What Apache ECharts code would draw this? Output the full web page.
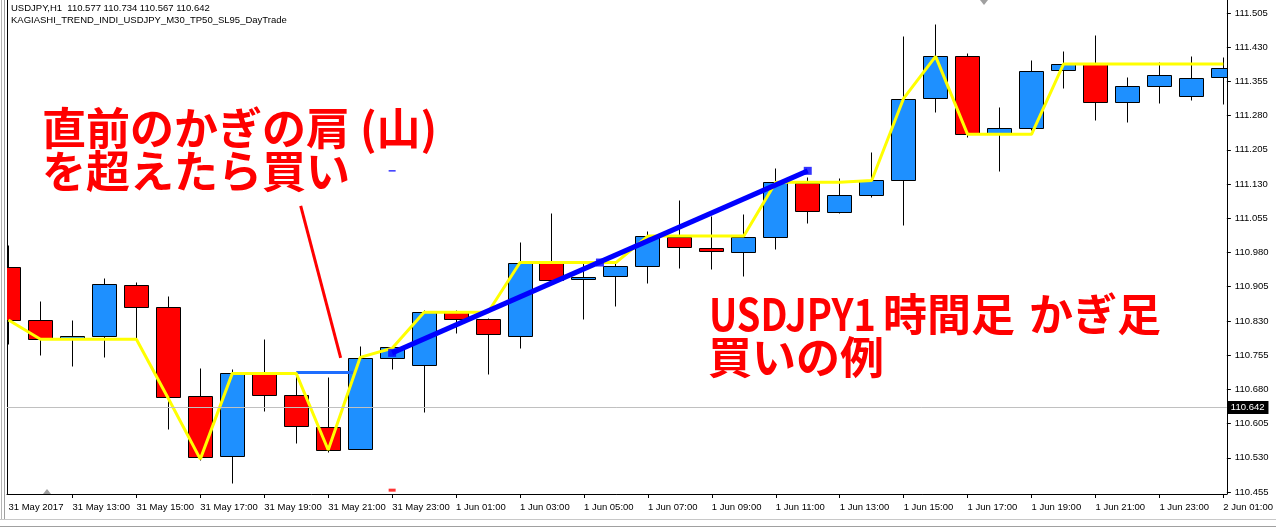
<!DOCTYPE html>
<html><head><meta charset="utf-8">
<script src="https://cdn.jsdelivr.net/npm/echarts@6/dist/echarts.min.js"></script>
<style>html,body{margin:0;padding:0;background:#fff}#c{width:1276px;height:528px}</style>
</head><body><div id="c"></div>
<script>
// ---- data (USDJPY H1, 31 May 11:00 .. 2 Jun 01:00) ----
const opens  = [110.948,110.831,110.790,110.796,110.908,110.860,110.665,110.533,110.715,110.667,110.597,110.549,110.748,110.733,110.849,110.834,110.798,110.956,110.921,110.928,110.950,111.013,110.989,110.980,111.013,111.132,111.068,111.105,111.138,111.318,111.410,111.239,111.252,111.379,111.393,111.311,111.344,111.322,111.364];
const closes = [110.832,110.790,110.796,110.910,110.860,110.663,110.531,110.715,110.667,110.599,110.546,110.748,110.772,110.849,110.834,110.801,110.958,110.919,110.926,110.950,111.016,110.991,110.983,111.013,111.134,111.070,111.105,111.138,111.316,111.410,111.239,111.252,111.377,111.393,111.311,111.344,111.368,111.362,111.384];
const lows   = [110.779,110.755,110.732,110.752,110.790,110.594,110.526,110.475,110.633,110.563,110.542,110.549,110.725,110.630,110.804,110.714,110.771,110.918,110.835,110.863,110.914,110.947,110.943,110.929,110.988,111.045,111.067,111.102,111.041,111.289,111.233,111.159,111.249,111.341,111.270,111.267,111.307,111.314,111.305];
const highs  = [110.996,110.874,110.832,110.924,110.915,110.885,110.727,110.725,110.790,110.715,110.706,110.775,110.776,110.854,110.854,110.836,111.003,111.067,110.957,110.957,111.027,111.095,111.060,111.064,111.165,111.146,111.143,111.200,111.455,111.481,111.417,111.298,111.401,111.421,111.457,111.364,111.397,111.411,111.409];
const kagi   = [110.832,110.790,110.790,110.790,110.790,110.660,110.527,110.715,110.715,110.715,110.547,110.750,110.770,110.849,110.849,110.849,110.958,110.958,110.958,110.958,111.016,111.016,111.016,111.016,111.134,111.134,111.134,111.138,111.318,111.410,111.239,111.239,111.239,111.393,111.393,111.393,111.393,111.393,111.393];
const shoulderLine = [[9,110.717],[10.78,110.717]];
const trendLine    = [[12,110.760],[25,111.159]];
const trendHandles = [[12,110.760],[18.5,110.958],[25,111.159]];
const arrowLine    = [[9.14,111.082],[10.39,110.749]];
const tpMark = [[12,111.159]];
const slMark = [[12,110.459]];
const bidPrice = 110.642;
const xTickIdx    = [0,2,4,6,8,10,12,14,16,18,20,22,24,26,28,30,32,34,36,38];
const xTickLabels = ['31 May 2017','31 May 13:00','31 May 15:00','31 May 17:00','31 May 19:00','31 May 21:00','31 May 23:00','1 Jun 01:00','1 Jun 03:00','1 Jun 05:00','1 Jun 07:00','1 Jun 09:00','1 Jun 11:00','1 Jun 13:00','1 Jun 15:00','1 Jun 17:00','1 Jun 19:00','1 Jun 21:00','1 Jun 23:00','2 Jun 01:00'];
const yTicks = [110.455,110.530,110.605,110.680,110.755,110.830,110.905,110.980,111.055,111.130,111.205,111.280,111.355,111.430,111.505];
const headerLine1 = 'USDJPY,H1  110.577 110.734 110.567 110.642';
const headerLine2 = 'KAGIASHI_TREND_INDI_USDJPY_M30_TP50_SL95_DayTrade';
const noteLeft  = ['直前のかぎの肩 (山)', 'を超えたら買い'];
const noteRight = ['USDJPY1', '時間足', 'かぎ足', '買いの例'];

// ---- chart ----
const candleData = opens.map((o, i) => [i, o, closes[i], lows[i], highs[i]]);
const F = "'Liberation Sans', Arial, sans-serif";
const CJK = "'Noto Sans CJK JP', sans-serif";

function renderCandle(params, api) {
  const i = api.value(0), o = api.value(1), c = api.value(2), l = api.value(3), h = api.value(4);
  const cx = Math.round(api.coord([i, o])[0] - 0.5) + 0.5;
  const yo = api.coord([i, o])[1], yc = api.coord([i, c])[1];
  const yl = Math.round(api.coord([i, l])[1]) + 0.5, yh = Math.round(api.coord([i, h])[1]) + 0.5;
  const top = Math.round(Math.min(yo, yc)) + 0.5, bot = Math.round(Math.max(yo, yc)) + 0.5;
  const half = Math.round(api.size([1, 0])[0] * 0.375);
  return { type: 'group', children: [
    { type: 'line', shape: { x1: cx, y1: yh, x2: cx, y2: yl }, style: { stroke: '#000', lineWidth: 1 } },
    { type: 'rect', shape: { x: cx - half, y: top, width: half * 2, height: Math.max(bot - top, 1) },
      style: { fill: c >= o ? '#1E90FF' : '#FF0000', stroke: '#000', lineWidth: 1 } }
  ]};
}

function bigText(x, y, text, extra) {
  return Object.assign({ type: 'text', x: x, y: y, z: 100,
    style: { text: text, fill: '#FF0000', fontSize: 44, fontWeight: 'bold', fontFamily: CJK, verticalAlign: 'middle' } }, extra || {});
}

const chart = echarts.init(document.getElementById('c'), null, { renderer: 'canvas' });
chart.setOption({
  animation: false,
  backgroundColor: '#fff',
  grid: { left: 7, right: 48, top: 0, bottom: 34 },
  xAxis: {
    type: 'value', min: -0.046875, max: 38.109375,
    axisLine: { show: true, onZero: false, lineStyle: { color: '#000', width: 1 } },
    axisTick: { show: true, length: 4, customValues: xTickIdx.slice(1), lineStyle: { color: '#000' } },
    axisLabel: { customValues: xTickIdx, formatter: v => xTickLabels[xTickIdx.indexOf(Math.round(v))] || '',
      align: 'left', margin: 8, color: '#000', fontSize: 9.5, fontFamily: F },
    splitLine: { show: false }
  },
  yAxis: [{
    type: 'value', position: 'right', min: 110.4506, max: 111.5335, scale: true,
    axisLine: { show: true, onZero: false, lineStyle: { color: '#000', width: 1 } },
    axisTick: { show: true, length: 4, customValues: yTicks, lineStyle: { color: '#000' } },
    axisLabel: { customValues: yTicks, formatter: v => v.toFixed(3), margin: 8, color: '#000', fontSize: 9.5, fontFamily: F },
    splitLine: { show: false }
  }, {
    type: 'value', position: 'left', min: 110.4506, max: 111.5335, scale: true,
    axisLine: { show: true, onZero: false, lineStyle: { color: '#000', width: 1 } },
    axisTick: { show: false }, axisLabel: { show: false }, splitLine: { show: false }
  }],
  series: [
    { type: 'line', z: 1, data: [[0, bidPrice]], symbol: 'none', lineStyle: { width: 0 },
      markLine: { silent: true, symbol: 'none', animation: false,
        lineStyle: { color: '#C0C0C0', type: 'solid', width: 1 },
        label: { show: true, position: 'end', distance: 1, formatter: bidPrice.toFixed(3), color: '#fff',
          backgroundColor: '#000', padding: [2, 4, 1, 3], fontSize: 9.5, fontFamily: F },
        data: [{ yAxis: bidPrice }] } },
    { type: 'custom', z: 2, clip: true, renderItem: renderCandle, data: candleData, encode: { x: 0, y: [1, 2, 3, 4] } },
    { type: 'line', z: 3, data: shoulderLine, symbol: 'none', lineStyle: { color: '#1E6EFF', width: 3 } },
    { type: 'line', z: 4, data: kagi.map((v, i) => [i, v]), symbol: 'none', lineStyle: { color: '#FFFF00', width: 3 } },
    { type: 'line', z: 5, data: trendLine, symbol: 'none', lineStyle: { color: '#0000FF', width: 5 } },
    { type: 'scatter', z: 6, data: trendHandles, symbol: 'rect', symbolSize: 8, itemStyle: { color: '#0000FF' } },
    { type: 'line', z: 6, data: arrowLine, symbol: 'none', lineStyle: { color: '#FF0000', width: 3 } },
    { type: 'scatter', z: 6, data: tpMark, symbol: 'rect', symbolSize: [7, 1.5], itemStyle: { color: '#0000FF' } },
    { type: 'scatter', z: 6, data: slMark, symbol: 'rect', symbolSize: [7, 3], itemStyle: { color: '#FF0000' } }
  ],
  graphic: [
    { type: 'line', shape: { x1: 1.5, y1: 0, x2: 1.5, y2: 520 }, style: { stroke: '#B4B4B4', lineWidth: 1 } },
    { type: 'line', shape: { x1: 4.5, y1: 0, x2: 4.5, y2: 520 }, style: { stroke: '#A0A0A0', lineWidth: 1 } },
    { type: 'line', shape: { x1: 0, y1: 519.5, x2: 1276, y2: 519.5 }, style: { stroke: '#C8C8C8', lineWidth: 1 } },
    { type: 'line', shape: { x1: 0, y1: 526.5, x2: 1276, y2: 526.5 }, style: { stroke: '#A0A0A0', lineWidth: 1 } },
    { type: 'polygon', shape: { points: [[980, 0], [988, 0], [984, 5]] }, style: { fill: '#A0A0A0' } },
    { type: 'polygon', shape: { points: [[43, 494], [51, 494], [47, 489]] }, style: { fill: '#A0A0A0' } },
    { type: 'text', x: 11, y: 8, style: { text: headerLine1, fill: '#000', fontSize: 9.5, fontFamily: F, verticalAlign: 'middle' } },
    { type: 'text', x: 11, y: 20, style: { text: headerLine2, fill: '#000', fontSize: 9.5, fontFamily: F, verticalAlign: 'middle' } },
    bigText(42, 128, noteLeft[0]),
    bigText(42, 171, noteLeft[1]),
    bigText(709, 314, noteRight[0], { scaleX: 0.86 }),
    bigText(883, 314, noteRight[1]),
    bigText(1029, 314, noteRight[2]),
    bigText(708, 357, noteRight[3])
  ]
});
</script></body></html>
